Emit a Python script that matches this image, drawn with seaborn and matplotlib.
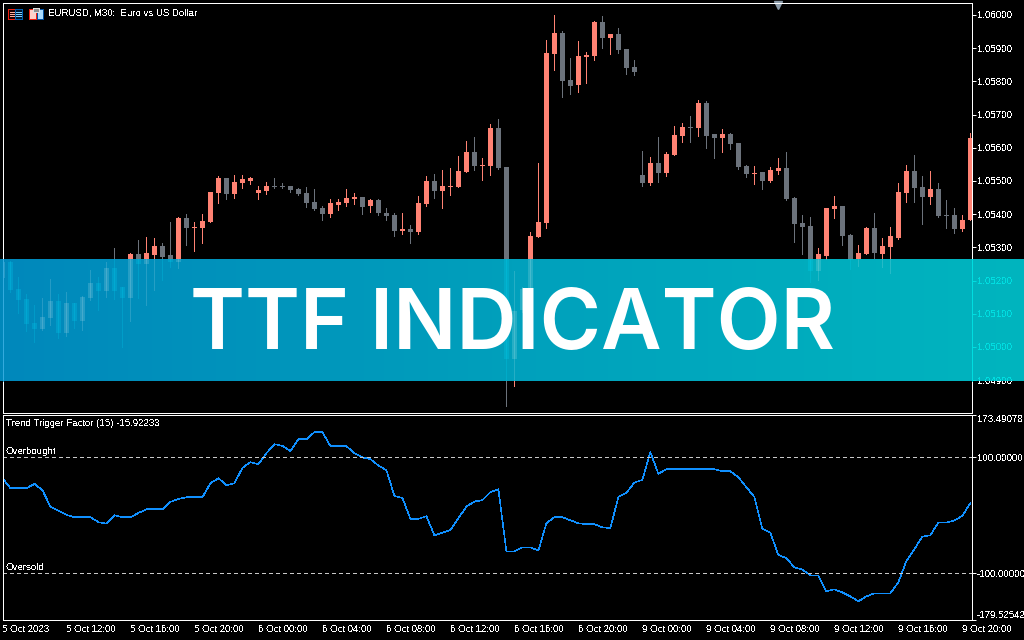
import numpy as np
import pandas as pd
import matplotlib
matplotlib.use("Agg")
import matplotlib.pyplot as plt
import seaborn as sns
from matplotlib.colors import LinearSegmentedColormap
from matplotlib.patches import Rectangle

# EURUSD M30 candles
highs = [1.05256,1.05259,1.05211,1.05160,1.05126,1.05147,1.05205,1.05160,1.05166,1.05132,1.05154,1.05232,1.05211,1.05256,1.05298,1.05181,
         1.05283,1.05322,1.05331,1.05328,1.05313,1.05376,1.05391,1.05400,1.05376,1.05400,1.05467,1.05515,1.05509,1.05518,1.05518,1.05512,
         1.05485,1.05497,1.05509,1.05494,1.05485,1.05479,1.05482,1.05476,1.05425,1.05446,1.05446,1.05476,1.05464,1.05452,1.05446,1.05446,
         1.05419,1.05403,1.05403,1.05367,1.05455,1.05515,1.05521,1.05533,1.05539,1.05575,1.05620,1.05632,1.05569,1.05672,1.05687,1.05542,
         1.05229,1.05181,1.05346,1.05554,1.05925,1.06000,1.05952,1.05870,1.05922,1.05888,1.05982,1.05997,1.05943,1.05961,1.05897,1.05864,
         1.05590,1.05572,1.05632,1.05587,1.05666,1.05675,1.05696,1.05744,1.05741,1.05641,1.05657,1.05645,1.05614,1.05548,1.05545,1.05527,
         1.05542,1.05569,1.05587,1.05452,1.05397,1.05391,1.05298,1.05419,1.05455,1.05425,1.05340,1.05307,1.05361,1.05403,1.05328,1.05361,
         1.05494,1.05548,1.05578,1.05515,1.05530,1.05494,1.05443,1.05419,1.05397,1.05645]
lows = [1.05208,1.05166,1.05102,1.05048,1.05015,1.05051,1.05066,1.05027,1.05033,1.05057,1.05051,1.05141,1.05111,1.05151,1.05144,1.05000,
        1.05078,1.05147,1.05126,1.05172,1.05202,1.05241,1.05238,1.05307,1.05289,1.05313,1.05376,1.05434,1.05446,1.05449,1.05479,1.05491,
        1.05446,1.05461,1.05479,1.05479,1.05467,1.05458,1.05422,1.05412,1.05382,1.05391,1.05412,1.05425,1.05431,1.05400,1.05406,1.05397,
        1.05382,1.05334,1.05340,1.05313,1.05340,1.05425,1.05449,1.05419,1.05458,1.05482,1.05527,1.05533,1.05503,1.05518,1.05536,1.04822,
        1.04883,1.05105,1.05172,1.05331,1.05358,1.05834,1.05753,1.05762,1.05768,1.05795,1.05864,1.05900,1.05882,1.05885,1.05822,1.05819,
        1.05485,1.05488,1.05497,1.05515,1.05578,1.05617,1.05617,1.05635,1.05599,1.05569,1.05587,1.05596,1.05536,1.05512,1.05491,1.05476,
        1.05497,1.05521,1.05443,1.05316,1.05280,1.05196,1.05202,1.05265,1.05388,1.05307,1.05235,1.05244,1.05280,1.05268,1.05241,1.05223,
        1.05325,1.05437,1.05437,1.05370,1.05431,1.05391,1.05358,1.05343,1.05349,1.05382]
# body edges, higher and lower price
body_tops = [1.05256,1.05256,1.05175,1.05144,1.05072,1.05090,1.05138,1.05138,1.05132,1.05132,1.05151,1.05193,1.05193,1.05238,1.05238,1.05181,
             1.05280,1.05280,1.05283,1.05304,1.05304,1.05277,1.05388,1.05388,1.05361,1.05379,1.05467,1.05509,1.05509,1.05497,1.05506,1.05509,
             1.05473,1.05485,1.05485,1.05485,1.05485,1.05476,1.05464,1.05437,1.05419,1.05434,1.05437,1.05449,1.05452,1.05452,1.05443,1.05443,
             1.05403,1.05397,1.05355,1.05355,1.05434,1.05500,1.05500,1.05485,1.05485,1.05530,1.05587,1.05587,1.05548,1.05660,1.05660,1.05542,
             1.05108,1.05175,1.05334,1.05376,1.05885,1.05946,1.05946,1.05804,1.05876,1.05879,1.05979,1.05979,1.05943,1.05943,1.05897,1.05843,
             1.05518,1.05554,1.05554,1.05581,1.05638,1.05663,1.05663,1.05735,1.05735,1.05641,1.05641,1.05641,1.05614,1.05545,1.05524,1.05527,
             1.05533,1.05539,1.05539,1.05449,1.05373,1.05364,1.05280,1.05419,1.05425,1.05425,1.05337,1.05283,1.05358,1.05358,1.05304,1.05334,
             1.05467,1.05530,1.05530,1.05482,1.05476,1.05476,1.05397,1.05397,1.05382,1.05629]
body_bottoms = [1.05208,1.05172,1.05141,1.05069,1.05054,1.05054,1.05087,1.05042,1.05042,1.05078,1.05078,1.05147,1.05169,1.05169,1.05169,1.05147,
                1.05147,1.05250,1.05250,1.05277,1.05271,1.05256,1.05256,1.05358,1.05358,1.05358,1.05376,1.05464,1.05461,1.05461,1.05494,1.05500,
                1.05464,1.05470,1.05482,1.05482,1.05473,1.05461,1.05434,1.05416,1.05400,1.05400,1.05428,1.05434,1.05446,1.05422,1.05425,1.05403,
                1.05394,1.05349,1.05349,1.05346,1.05346,1.05431,1.05470,1.05470,1.05482,1.05482,1.05527,1.05545,1.05545,1.05545,1.05539,1.04964,
                1.04964,1.05111,1.05178,1.05331,1.05373,1.05882,1.05801,1.05786,1.05789,1.05873,1.05876,1.05931,1.05931,1.05894,1.05840,1.05828,
                1.05494,1.05494,1.05524,1.05524,1.05578,1.05635,1.05660,1.05660,1.05635,1.05629,1.05629,1.05611,1.05542,1.05521,1.05521,1.05500,
                1.05500,1.05530,1.05446,1.05370,1.05361,1.05229,1.05229,1.05274,1.05416,1.05334,1.05262,1.05265,1.05280,1.05283,1.05280,1.05301,
                1.05328,1.05464,1.05479,1.05452,1.05452,1.05394,1.05394,1.05355,1.05355,1.05382]
# 1 = bullish candle, 0 = bearish
bullish = [1,0,0,0,0,1,1,0,1,0,1,1,0,1,0,0,
           1,0,1,1,0,0,1,0,1,1,1,1,0,1,1,1,
           1,1,0,0,0,0,0,0,0,1,1,1,1,0,1,0,
           0,0,1,0,1,1,0,1,1,1,1,0,1,1,0,0,
           1,1,1,1,1,1,0,0,1,1,1,0,1,0,0,0,
           0,1,0,1,1,1,0,1,0,0,1,0,0,0,1,0,
           1,1,0,0,0,0,1,1,1,0,0,1,1,0,1,1,
           1,1,0,0,1,0,0,0,1,1]

ttf = [63.8,46.6,46.6,46.6,54.0,43.1,14.4,7.5,0.6,-3.4,-3.4,-3.4,-12.0,-14.4,0.0,-3.4,
       -3.4,4.0,10.3,10.3,10.3,23.0,28.2,31.0,31.0,31.0,55.2,63.8,51.7,55.2,81.6,91.4,
       88.0,106.9,122.4,119.5,110.3,131.0,131.0,143.1,143.1,119.0,119.0,119.0,106.9,99.4,96.6,85.6,
       77.6,33.3,29.9,-6.3,-6.3,-1.7,-34.5,-29.9,-25.3,-5.2,14.9,23.6,25.9,39.7,44.8,-62.1,
       -62.1,-55.2,-55.2,-60.9,-13.8,-3.4,-3.4,-8.6,-13.8,-15.5,-15.5,-20.7,-22.4,31.6,38.5,56.3,
       60.9,108.6,71.3,79.3,79.3,79.3,79.3,79.3,79.3,79.3,75.9,75.9,65.5,48.3,31.6,-23.0,
       -29.9,-68.4,-73.6,-89.7,-93.7,-103.4,-103.4,-131.0,-127.6,-132.8,-139.7,-148.3,-139.7,-134.5,-134.5,-134.5,
       -115.5,-79.3,-58.6,-36.8,-34.5,-12.6,-12.6,-9.2,-1.1,20.7]

time_labels = ["5 Oct 2023", "5 Oct 12:00", "5 Oct 16:00", "5 Oct 20:00", "6 Oct 00:00", "6 Oct 04:00", "6 Oct 08:00", "6 Oct 12:00",
               "6 Oct 16:00", "6 Oct 20:00", "9 Oct 00:00", "9 Oct 04:00", "9 Oct 08:00", "9 Oct 12:00", "9 Oct 16:00", "9 Oct 20:00"]
price_ticks = [1.049, 1.050, 1.051, 1.052, 1.053, 1.054, 1.055, 1.056, 1.057, 1.058, 1.059, 1.060]
ttf_ticks = [-179.52542, -100.0, 100.0, 173.49078]
ttf_labels = ["-179.52542", "-100.00000", "100.00000", "173.49078"]

UP = "#ff8273"
DOWN = "#6b727b"
LINE = "#1090ff"
FONT = "Liberation Sans"
TEXT_PT = 6.9
W, H = 1024, 640


def px_rect(left, top, right, bottom):
    return [left / W, 1 - bottom / H, (right - left) / W, (bottom - top) / H]


def px_box(left, top, right, bottom, fc, ec):
    fig.add_artist(Rectangle((left / W, 1 - bottom / H), (right - left) / W, (bottom - top) / H, transform=fig.transFigure,
                             fc=fc, ec=ec, lw=0.72, antialiased=False, zorder=5))


def draw_candles(ax, df, up, down, alpha=1.0, up_alpha=None):
    for is_up, col, a in [(1, up, up_alpha or alpha), (0, down, alpha)]:
        part = df[df.bullish == is_up]
        ax.vlines(part.bar, part.low, part.high, color=col, lw=0.72, alpha=a, antialiased=False)
        ax.bar(part.bar, part.body_top - part.body_bottom, bottom=part.body_bottom, width=0.62,
               color=col, alpha=a, linewidth=0, antialiased=False)


def style_price_axis(ax, color, ticks):
    ax.yaxis.tick_right()
    ax.set_yticks(ticks)
    ax.set_yticklabels([f"{t:.5f}" for t in ticks])
    ax.tick_params(axis="y", length=3.2, width=0.72, pad=0.6, color=color, labelcolor=color, labelsize=TEXT_PT)
    ax.set_xticks([])


sns.set_theme(style="dark", rc={"figure.facecolor": "black", "axes.facecolor": "black", "text.antialiased": False,
                                "text.hinting": "native", "axes.linewidth": 0.72, "axes.edgecolor": "white"})
plt.rcParams["font.family"] = [FONT, "DejaVu Sans"]

df = pd.DataFrame({"bar": np.arange(len(highs)), "high": highs, "low": lows, "body_top": body_tops,
                   "body_bottom": body_bottoms, "bullish": bullish, "ttf": ttf})
xlim = (0.02, 121.15)
price_at = lambda y: 1.06045 - 0.00003012 * y  # pixel row to price, from the scale ticks

fig = plt.figure(figsize=(W / 100, H / 100), dpi=100)

# price window
ax = fig.add_axes(px_rect(2.5, 2.5, 971.5, 412.5), zorder=1)
draw_candles(ax, df, UP, DOWN)
style_price_axis(ax, "white", price_ticks)
ax.set_xlim(xlim)
ax.set_ylim(price_at(412.5), price_at(2.5))
ax.plot([97], [price_at(5)], marker="v", ms=6, color="#8c9cab", clip_on=False, linestyle="none")

# icons in the corner
px_box(7.5, 8.5, 14.5, 18.5, "#200000", "#f02010")
px_box(14.5, 8.5, 21.5, 18.5, "#001830", "#0060b0")
for row in (11.5, 13.5, 15.5):
    px_box(9.5, row, 13.5, row + 0.5, "#ffb0a0", "#ffb0a0")
    px_box(15.5, row, 20.5, row + 0.5, "#80d0ff", "#80d0ff")
px_box(28.5, 8.5, 35.5, 18.5, "#ffd0c8", "#f02010")
px_box(36.5, 8.5, 42.5, 18.5, "#a8dcff", "#0050a0")
px_box(32.5, 7.5, 38.5, 11.5, "#909090", "#e0e0e0")
fig.text(48.5 / W, 1 - 13.5 / H, "EURUSD, M30:  Euro vs US Dollar", color="white", fontsize=TEXT_PT, va="center")

# indicator window
ax_ttf = fig.add_axes(px_rect(2.5, 414.5, 971.5, 619.5), zorder=1)
sns.lineplot(data=df, x="bar", y="ttf", color=LINE, lw=0.4, antialiased=False, ax=ax_ttf)
for level in (100, -100):
    ax_ttf.axhline(level, color="#c8c8c8", lw=0.72, dashes=(3, 3), antialiased=False)
ax_ttf.set_xlim(xlim)
ax_ttf.set_ylim(ttf_ticks[0], ttf_ticks[-1])
ax_ttf.set_xlabel("")
ax_ttf.set_ylabel("")
ax_ttf.yaxis.tick_right()
ax_ttf.set_yticks(ttf_ticks)
ax_ttf.set_yticklabels(ttf_labels)
ax_ttf.set_xticks(np.arange(0, len(highs), 8))
ax_ttf.set_xticklabels(time_labels, ha="left")
ax_ttf.tick_params(axis="both", length=3.2, width=0.72, pad=0.6, color="white", labelcolor="white", labelsize=TEXT_PT)
ax_ttf.tick_params(axis="x", pad=0.8)
ytl = ax_ttf.get_yticklabels()
ytl[0].set_va("bottom")
ytl[-1].set_va("top")
fig.text(6 / W, 1 - 423 / H, "Trend Trigger Factor (15) -15.92233", color="white", fontsize=TEXT_PT, va="center", zorder=5)
fig.text(6 / W, 1 - 451.5 / H, "Overbought", color="white", fontsize=TEXT_PT, va="center", zorder=5)
fig.text(6 / W, 1 - 567.5 / H, "Oversold", color="white", fontsize=TEXT_PT, va="center", zorder=5)

# banner over the chart
band = fig.add_axes(px_rect(0, 259, W, 381), zorder=2)
cmap = LinearSegmentedColormap.from_list("band", ["#0088bb", "#00a0bc", "#00b5bf"])
band.imshow(np.linspace(0, 1, 256).reshape(1, -1), cmap=cmap, aspect="auto")
band.axis("off")

# what shows through the banner
ghost = fig.add_axes(px_rect(2.5, 259, 971.5, 381), zorder=3)
ghost.patch.set_alpha(0)
draw_candles(ghost, df, "white", "#00e0ff", alpha=0.2, up_alpha=0.15)
style_price_axis(ghost, "#00dde0", [t for t in price_ticks if t < 1.0525])
ghost.set_xlim(xlim)
ghost.set_ylim(price_at(381), price_at(259))
for lab in ghost.get_yticklabels():
    lab.set_clip_on(True)
    lab.set_clip_box(band.bbox)
ghost.spines["top"].set_visible(False)
ghost.spines["bottom"].set_visible(False)
ghost.spines["left"].set_color("#33aadd")
ghost.spines["right"].set_color("#00dde0")

fig.text(512.5 / W, 1 - 349 / H, "TTF INDICATOR", color="white", fontsize=60, fontweight="semibold",
         family="Inter", ha="center", va="baseline", antialiased=True, zorder=6)

fig.savefig("out.png", dpi=100, facecolor="black")
